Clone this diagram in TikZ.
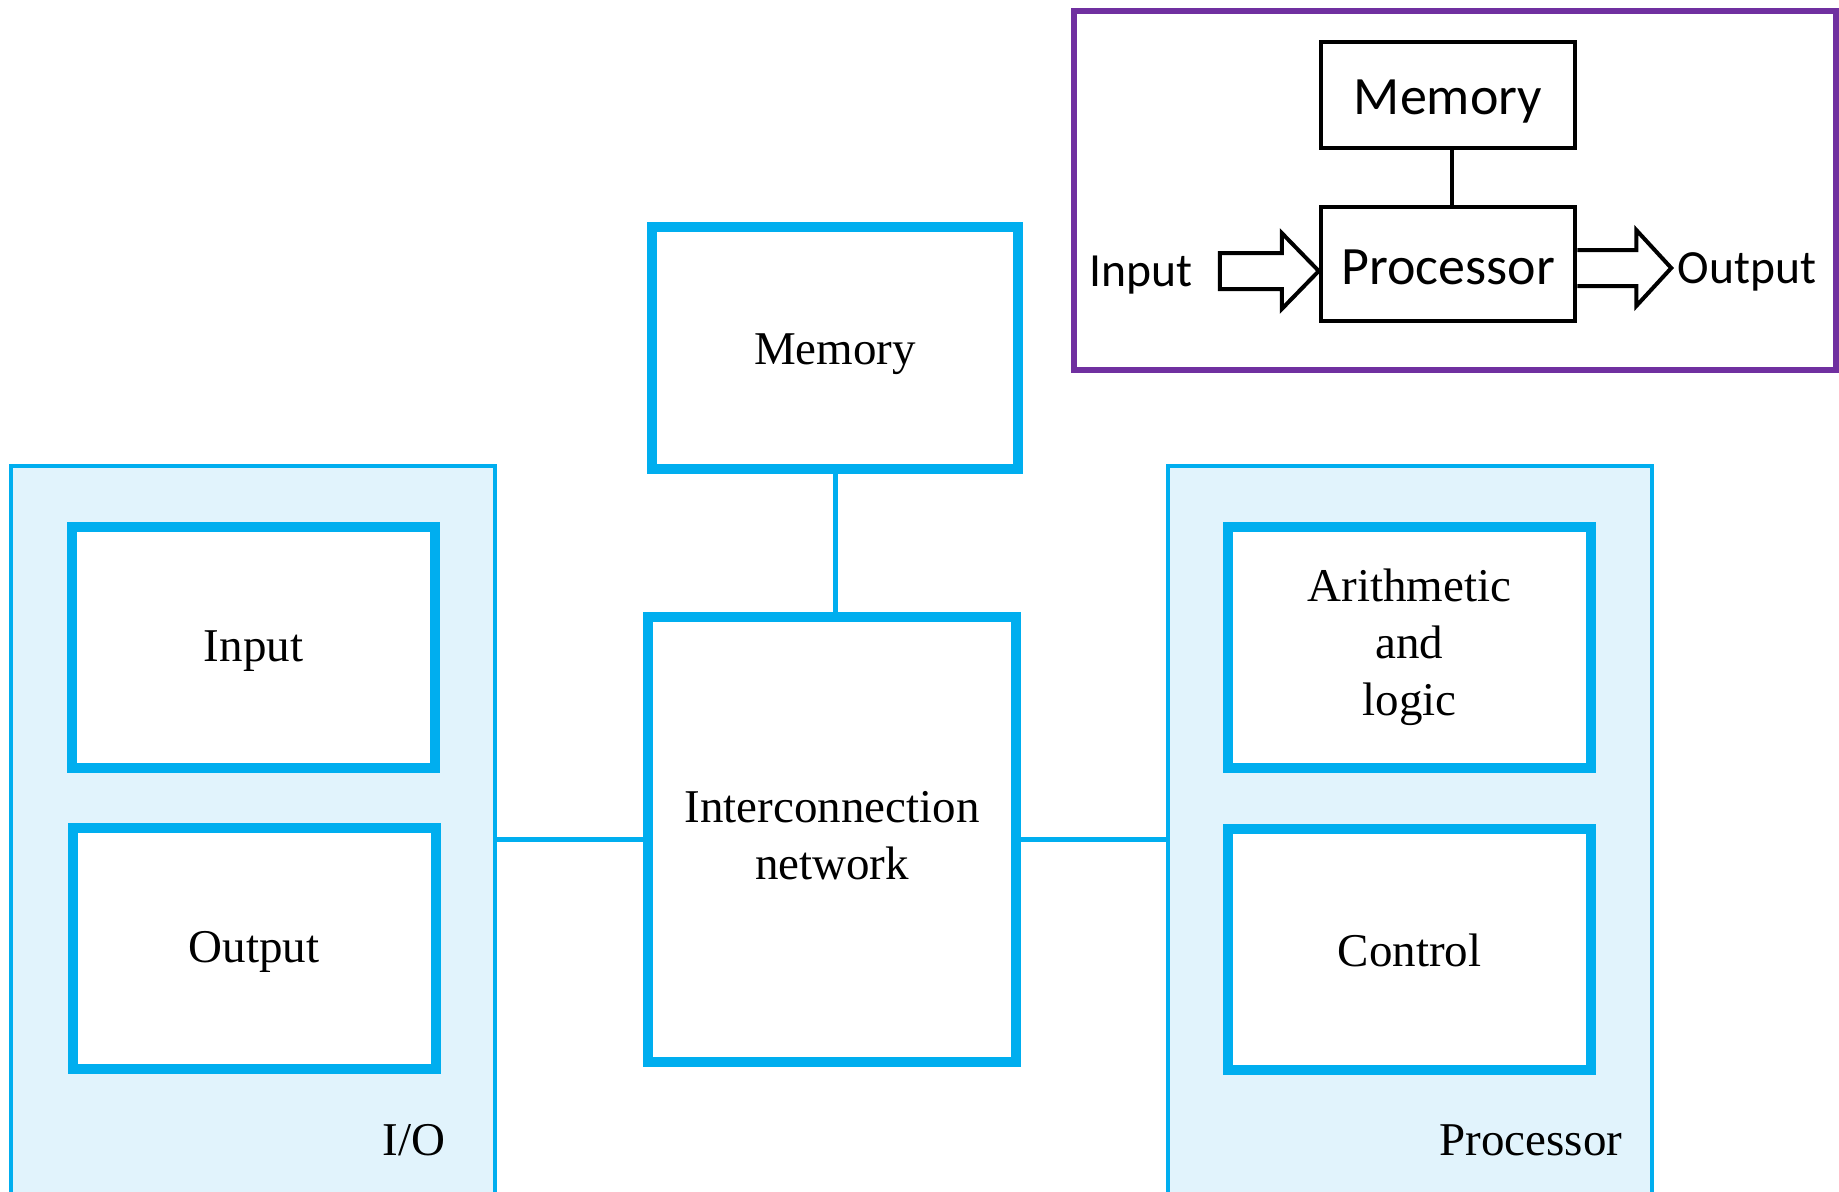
\documentclass[tikz,border=0pt]{standalone}
\usepackage{fontspec}
\setmainfont{Liberation Serif}
\newfontfamily\insetfont{Carlito}
\usetikzlibrary{calc}
\definecolor{cyanline}{RGB}{0,174,239}
\definecolor{groupfill}{RGB}{225,243,252}
\definecolor{insetpurple}{RGB}{112,48,160}
% move a label up or down without changing its box
\newcommand{\nudge}[2]{\raisebox{#1}[\height][\depth]{#2}}

\begin{document}
\begin{tikzpicture}[x=0.5pt,y=-0.5pt,
  unitbox/.style={draw=cyanline, line width=5pt, fill=white, inner sep=0pt,
    minimum width=181.5pt, minimum height=120.5pt, align=center,
    font=\fontsize{23.5}{28.5}\selectfont},
  groupbox/.style={draw=cyanline, line width=2pt, fill=groupfill, inner sep=0pt},
  grouplabel/.style={inner sep=0pt, font=\fontsize{23.5}{28.5}\selectfont},
  link/.style={draw=cyanline, line width=2.5pt},
  insetframe/.style={draw=insetpurple, line width=3pt, inner sep=0pt},
  insetbox/.style={draw=black, line width=2.25pt, fill=white, inner sep=0pt,
    minimum width=127pt, font=\insetfont\fontsize{27}{30}\selectfont},
  insettext/.style={inner sep=0pt, font=\insetfont\fontsize{23.8}{28}\selectfont},
  blockarrow/.style={draw=black, line width=2pt, line join=miter, fill=white},
]
\useasboundingbox (0,0) rectangle (1839,1191);
\clip (0,0) rectangle (1839,1191);

% ---- I/O group ----
\node[groupbox, minimum width=242pt, minimum height=365pt] (io) at (253,831) {};
\node[unitbox] (inp) at (253.5,647.5) {\nudge{-1.8pt}{Input}};
\node[unitbox] (outp) at (254,948.5) {\nudge{-1.8pt}{Output}};
\node[grouplabel] (iolbl) at (414,1140) {I/O};

% ---- Processor group ----
\node[groupbox, minimum width=242pt, minimum height=365pt] (proc) at (1410,831) {};
\node[unitbox] (alu) at (1409.5,647.5) {Arithmetic\\and\\logic};
\node[unitbox] (ctrl) at (1409.5,949.5) {\nudge{-0.6pt}{Control}};
\node[grouplabel] (proclbl) at (1531,1140) {Processor};

% ---- Memory and interconnection network ----
\node[unitbox, minimum width=183pt, minimum height=121pt] (mem) at (835,348)
  {\nudge{-3pt}{Memory}};
\node[unitbox, minimum width=184pt, minimum height=222.5pt] (net) at (832,839.5)
  {\nudge{0pt}{\begin{tabular}{@{}c@{}}Interconnection\\network\end{tabular}}};

\draw[link] (mem.south) -- (mem.south |- net.north);
\draw[link] (io.east |- net.west) -- (net.west);
\draw[link] (net.east) -- (proc.west |- net.east);

% ---- Simple model: processor, memory, input and output ----
\node[insetframe, minimum width=381pt, minimum height=179.5pt] (frame) at (1455,190.5) {};
\node[insetbox, minimum height=53pt] (imem) at (1448,95) {\nudge{-3.5pt}{Memory}};
\node[insetbox, minimum height=57pt] (iproc) at (1448,264) {\nudge{-1.8pt}{Processor}};
\draw[black, line width=2.25pt] (imem.south -| 1452,0) -- (iproc.north -| 1452,0);

\node[insettext] (intxt) at (1141,275) {Input};
\node[insettext] (outtxt) at (1747,272) {Output};

\coordinate (intip) at ($(iproc.west)+(0,7)$);
\draw[blockarrow] (intip)
  -- ++(-37,-38) -- ++(0,20) -- ++(-62,0) -- ++(0,36) -- ++(62,0)
  -- ++(0,20) -- cycle;

\coordinate (outbase) at ($(iproc.east)+(0,4)$);
\draw[blockarrow] ($(outbase)+(0,-18)$)
  -- ++(59,0) -- ++(0,-20) -- ++(35,38) -- ++(-35,38) -- ++(0,-20) -- ++(-59,0);
\end{tikzpicture}
\end{document}
